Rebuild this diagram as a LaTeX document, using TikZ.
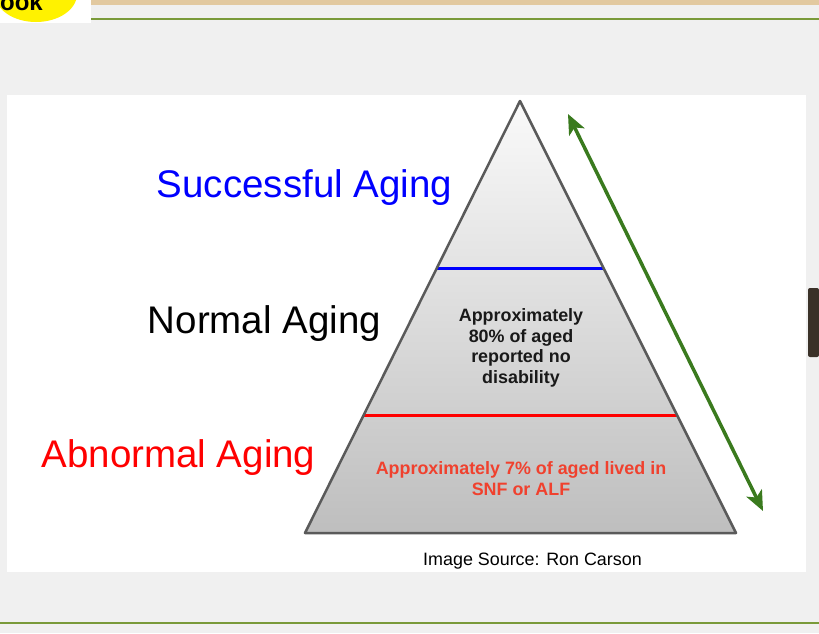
\documentclass[tikz,border=0pt]{standalone}
\usepackage{fontspec}
\setmainfont{Liberation Sans}
\usetikzlibrary{arrows.meta,calc}
\definecolor{pagegray}{RGB}{240,240,240}
\definecolor{bartan}{RGB}{226,201,160}
\definecolor{ruleolive}{RGB}{122,154,58}
\definecolor{edgegray}{RGB}{90,90,90}
\definecolor{arrowgreen}{RGB}{58,122,30}
\definecolor{notered}{RGB}{240,65,46}
\definecolor{tabbrown}{RGB}{58,49,40}
\definecolor{basegray}{RGB}{190,190,190}
\begin{document}
\begin{tikzpicture}[x=1pt,y=-1pt,
  heading/.style={anchor=base, inner sep=0pt, font=\fontsize{38.5}{46}\selectfont},
  note/.style={align=center, inner sep=0pt, font=\bfseries\fontsize{17.9}{20.6}\selectfont},
  >={Stealth[length=20pt,width=17pt,inset=5pt]}]
\useasboundingbox (0,0) rectangle (819,633);
\fill[pagegray] (0,0) rectangle (819,633);
\fill[bartan] (91,0) rectangle (819,5);
\fill[white] (0,0) rectangle (91,23);
\begin{scope}
\clip (0,0) rectangle (91,23);
\fill[yellow] (36,-6) ellipse (41 and 28);
\node[anchor=base east, inner sep=0pt, font=\bfseries\fontsize{24}{24}\selectfont] (badge) at (43,10) {Book};
\end{scope}
\draw[ruleolive, line width=1.5] (91,19) -- (819,19);
\draw[ruleolive, line width=1.5] (0,623) -- (819,623);
\fill[white] (7,95) rectangle (806,572);
\fill[tabbrown, rounded corners=2pt] (819,288) -| (808,357) -- (819,357) -- cycle;
\coordinate (apex) at (520,101);
\coordinate (baseL) at (305,533);
\coordinate (baseR) at (736,533);
\shade[top color=white!98!black, bottom color=basegray] (apex) -- (baseR) -- (baseL) -- cycle;
\draw[blue, line width=3] ($(apex)!0.387!(baseL)$) -- ($(apex)!0.387!(baseR)$);
\draw[red, line width=3] ($(apex)!0.729!(baseL)$) -- ($(apex)!0.729!(baseR)$);
\draw[edgegray, line width=2.5, line join=round] (apex) -- (baseR) -- (baseL) -- cycle;
\coordinate (up) at (568,114);
\coordinate (down) at (763,511);
\draw[arrowgreen, line width=3.5, <->] (up) -- (down);
\node[heading, text=blue] (success) at (304.5,197) {Successful Aging};
\node[heading] (normal) at (264.5,333) {Normal Aging};
\node[heading, text=red] (abnormal) at (178.5,467) {Abnormal Aging};
\node[note, text=black!90] (normalnote) at (521,348) {Approximately\\80\% of aged\\reported no\\disability};
\node[note, text=notered] (abnormalnote) at (521,478.5) {Approximately 7\% of aged lived in\\SNF or ALF};
\node[anchor=base, inner sep=0pt, font=\fontsize{17.9}{20}\selectfont] (source) at (532.5,565) {Image Source: Ron Carson};
\end{tikzpicture}
\end{document}
